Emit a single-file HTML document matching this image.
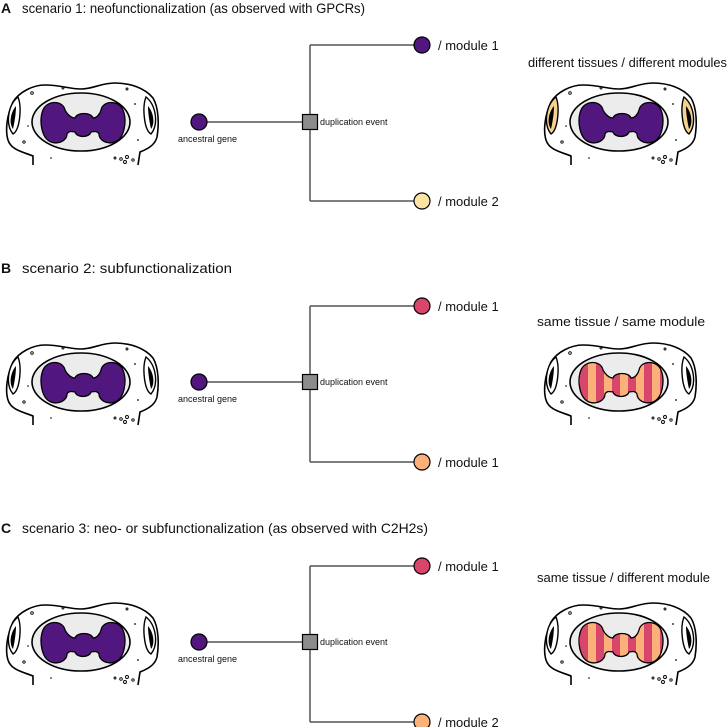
<!DOCTYPE html>
<html><head><meta charset="utf-8"><style>html,body{margin:0;padding:0;background:#fff}svg{display:block}text{font-family:"Liberation Sans",Arial,sans-serif;fill:#111}</style></head>
<body>
<svg width="728" height="727" viewBox="0 0 728 727" xmlns="http://www.w3.org/2000/svg">
<defs>
<pattern id="stripes" patternUnits="userSpaceOnUse" x="37" y="0" width="16" height="100">
<rect x="0" y="0" width="16" height="100" fill="#fcb07a"/>
<rect x="4" y="0" width="8" height="100" fill="#d9466c"/>
</pattern>
<path id="blob" transform="translate(-4,0)" d="M64,30 C62,20 46,20 42,30 C38,40 40,58 50,62 C58,65 66,60 66,54 C68,50 72,52 74,52 C76,58 88,58 90,52 C92,52 96,50 98,54 C98,60 106,65 114,62 C124,58 126,40 122,30 C118,20 102,20 100,30 C99,34 96,38 92,38 C90,32 76,32 74,38 C70,38 66,34 64,30 Z" stroke="#000" stroke-width="1.3"/>
<g id="head">
<path d="M28,85 L28,76 C18,72 6,70 3,60 C0,50 2,35 8,22 C14,12 28,5 40,5 C55,5 65,9 76,9 C88,9 96,3 110,3 C125,3 140,8 148,18 C154,28 154,45 152,57 C150,66 140,70 135,72 L133,85" fill="#fff" stroke="#000" stroke-width="1.6"/>
<ellipse cx="76" cy="42" rx="49" ry="29" fill="#ececec" stroke="#000" stroke-width="1.6"/>
<g fill="none" stroke="#000" stroke-width="0.9">
<circle cx="27" cy="13" r="1.3"/><circle cx="58" cy="8" r="1"/><circle cx="122" cy="9" r="1"/>
<circle cx="19" cy="62" r="1.2"/><circle cx="116" cy="79" r="1.3"/><circle cx="122" cy="77" r="1.5"/>
<circle cx="120" cy="82" r="1.5"/><circle cx="128" cy="80" r="1.2"/><circle cx="110" cy="78" r="1"/>
</g>
<g fill="#000"><circle cx="130" cy="24" r="0.9"/><circle cx="133" cy="60" r="0.9"/><circle cx="23" cy="46" r="0.8"/><circle cx="46" cy="78" r="0.8"/></g>
</g>
<g id="earL"><path d="M13,17 C3,25 0,44 8,54 C15,50 17,27 13,17 Z" stroke="#000" stroke-width="1.4"/><path d="M11,26 C5,33 4,44 8,49 C10,40 11,32 11,26 Z" fill="#000"/></g>
<g id="earR"><path d="M141,17 C151,25 154,44 146,54 C139,50 137,27 141,17 Z" stroke="#000" stroke-width="1.4"/><path d="M143,26 C149,33 150,44 146,49 C144,40 143,32 143,26 Z" fill="#000"/></g>
</defs>

<text x="1" y="13" font-size="14" font-weight="bold">A</text>
<text x="22" y="13" font-size="14" textLength="343" lengthAdjust="spacingAndGlyphs">scenario 1: neofunctionalization (as observed with GPCRs)</text>
<text x="1" y="273" font-size="14" font-weight="bold">B</text>
<text x="22" y="273" font-size="14" textLength="210" lengthAdjust="spacingAndGlyphs">scenario 2: subfunctionalization</text>
<text x="1" y="533" font-size="14" font-weight="bold">C</text>
<text x="22" y="533" font-size="14" textLength="406" lengthAdjust="spacingAndGlyphs">scenario 3: neo- or subfunctionalization (as observed with C2H2s)</text>

<text x="528" y="67" font-size="13" textLength="199" lengthAdjust="spacingAndGlyphs">different tissues / different modules</text>
<text x="537" y="326" font-size="13" textLength="168" lengthAdjust="spacingAndGlyphs">same tissue / same module</text>
<text x="537" y="582" font-size="13" textLength="173" lengthAdjust="spacingAndGlyphs">same tissue / different module</text>

<g transform="translate(5,80)"><use href="#head"/><use href="#earL" fill="#fff"/><use href="#earR" fill="#fff"/><use href="#blob" fill="#52167f"/></g>
<g transform="translate(5,340)"><use href="#head"/><use href="#earL" fill="#fff"/><use href="#earR" fill="#fff"/><use href="#blob" fill="#52167f"/></g>
<g transform="translate(5,600)"><use href="#head"/><use href="#earL" fill="#fff"/><use href="#earR" fill="#fff"/><use href="#blob" fill="#52167f"/></g>
<g transform="translate(543,80)"><use href="#head"/><use href="#earL" fill="#f6d08f"/><use href="#earR" fill="#f6d08f"/><use href="#blob" fill="#52167f"/></g>
<g transform="translate(543,340)"><use href="#head"/><use href="#earL" fill="#fff"/><use href="#earR" fill="#fff"/><use href="#blob" fill="url(#stripes)"/></g>
<g transform="translate(543,600)"><use href="#head"/><use href="#earL" fill="#fff"/><use href="#earR" fill="#fff"/><use href="#blob" fill="url(#stripes)"/></g>

<g stroke="#555" stroke-width="1.5" fill="none">
<path d="M199,122 H310 M310,45 V201 M310,45 H422 M310,201 H422"/>
<path d="M199,382 H310 M310,306 V462 M310,306 H422 M310,462 H422"/>
<path d="M199,642 H310 M310,566 V722 M310,566 H422 M310,722 H422"/>
</g>
<g stroke="#000" stroke-width="1.2">
<circle cx="199" cy="122" r="8" fill="#52167f"/><rect x="302.5" y="114.5" width="15" height="15" fill="#8c8c8c"/>
<circle cx="422" cy="45" r="8" fill="#52167f"/><circle cx="422" cy="201" r="8" fill="#fde4a5"/>
<circle cx="199" cy="382" r="8" fill="#52167f"/><rect x="302.5" y="374.5" width="15" height="15" fill="#8c8c8c"/>
<circle cx="422" cy="306" r="8" fill="#d9466c"/><circle cx="422" cy="462" r="8" fill="#fcb07a"/>
<circle cx="199" cy="642" r="8" fill="#52167f"/><rect x="302.5" y="634.5" width="15" height="15" fill="#8c8c8c"/>
<circle cx="422" cy="566" r="8" fill="#d9466c"/><circle cx="422" cy="722" r="8" fill="#fcb07a"/>
</g>
<g font-size="9">
<text x="178" y="142">ancestral gene</text><text x="320" y="125">duplication event</text>
<text x="178" y="402">ancestral gene</text><text x="320" y="385">duplication event</text>
<text x="178" y="662">ancestral gene</text><text x="320" y="645">duplication event</text>
</g>
<g font-size="13">
<text x="438" y="50">/ module 1</text><text x="438" y="206">/ module 2</text>
<text x="438" y="311">/ module 1</text><text x="438" y="467">/ module 1</text>
<text x="438" y="571">/ module 1</text><text x="438" y="727">/ module 2</text>
</g>
</svg>
</body></html>
